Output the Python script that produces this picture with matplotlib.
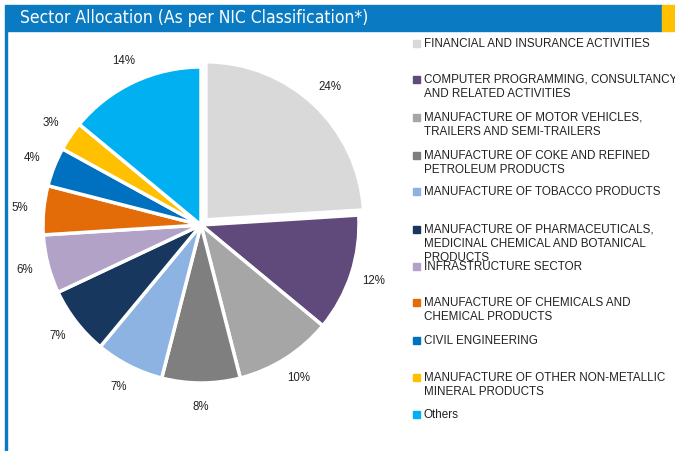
import matplotlib.pyplot as plt
from matplotlib.patches import Rectangle

sectors = [
    "FINANCIAL AND INSURANCE ACTIVITIES",
    "COMPUTER PROGRAMMING, CONSULTANCY\nAND RELATED ACTIVITIES",
    "MANUFACTURE OF MOTOR VEHICLES,\nTRAILERS AND SEMI-TRAILERS",
    "MANUFACTURE OF COKE AND REFINED\nPETROLEUM PRODUCTS",
    "MANUFACTURE OF TOBACCO PRODUCTS",
    "MANUFACTURE OF PHARMACEUTICALS,\nMEDICINAL CHEMICAL AND BOTANICAL\nPRODUCTS",
    "INFRASTRUCTURE SECTOR",
    "MANUFACTURE OF CHEMICALS AND\nCHEMICAL PRODUCTS",
    "CIVIL ENGINEERING",
    "MANUFACTURE OF OTHER NON-METALLIC\nMINERAL PRODUCTS",
    "Others",
]
shares = [24, 12, 10, 8, 7, 7, 6, 5, 4, 3, 14]
colors = ["#D9D9D9", "#604A7B", "#A6A6A6", "#7F7F7F", "#8DB3E2", "#17375E",
          "#B3A2C7", "#E36C09", "#0070C0", "#FFC000", "#00B0F0"]

W, H = 675, 451
fig = plt.figure(figsize=(W / 100, H / 100), dpi=100)
plt.rcParams['font.family'] = ['Liberation Sans', 'DejaVu Sans']

# header bar
fig.patches.append(Rectangle((5 / W, 1 - 31 / H), 657 / W, 26 / H,
                             transform=fig.transFigure, color="#0A7BC2", zorder=0))
fig.patches.append(Rectangle((662 / W, 1 - 31 / H), 13 / W, 26 / H,
                             transform=fig.transFigure, color="#FFC000", zorder=0))
fig.patches.append(Rectangle((5 / W, 0), 2 / W, 1 - 31 / H,
                             transform=fig.transFigure, color="#0A7BC2", zorder=0))
fig.text(20 / W, 1 - 18 / H, "Sector Allocation (As per NIC Classification*)",
         color="white", fontsize=12.5, family="DejaVu Sans", fontstretch="condensed",
         va="center", ha="left")

# pie
cx, cy, r = 201, 225, 158
half = 1.3 * r
ax = fig.add_axes([(cx - half) / W, (H - cy - half) / H, 2 * half / W, 2 * half / H])
explode = [0.045] + [0] * (len(shares) - 1)
ax.pie(shares, colors=colors, startangle=90, counterclock=False, explode=explode,
       autopct=lambda p: f"{p:.0f}%", pctdistance=1.15,
       wedgeprops=dict(edgecolor="white", linewidth=2.5),
       textprops=dict(fontsize=8.3, color="#222222"))
ax.set_xlim(-1.3, 1.3)
ax.set_ylim(-1.3, 1.3)
ax.set_aspect("equal")
ax.axis("off")

# legend
legend_y = [43, 79, 117, 155, 191, 229, 266, 302, 340, 377, 414]
for name, col, y in zip(sectors, colors, legend_y):
    fig.patches.append(Rectangle((413 / W, 1 - (y + 3.5) / H), 7 / W, 7 / H,
                                 transform=fig.transFigure, color=col))
    fig.text(424 / W, 1 - (y - 5) / H, name, fontsize=8.35, color="#222222",
             va="top", ha="left", linespacing=1.2)

fig.savefig("out.png", dpi=100)
